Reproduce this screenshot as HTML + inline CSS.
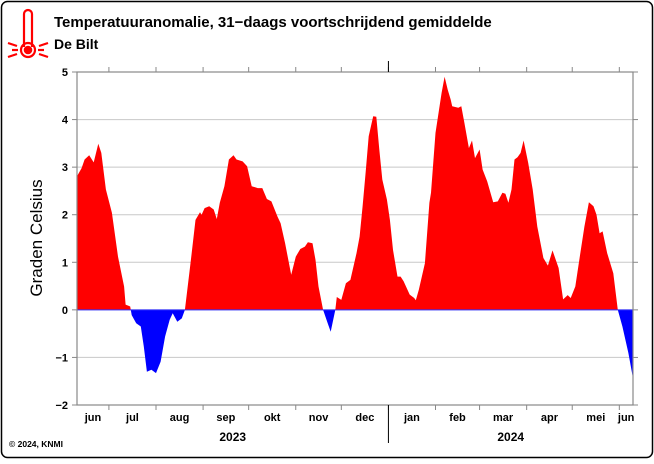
<!DOCTYPE html>
<html><head><meta charset="utf-8"><style>
body{margin:0;background:#fff;width:654px;height:459px;overflow:hidden;font-family:"Liberation Sans",sans-serif}
</style></head><body>
<svg id="chart" width="654" height="459" xmlns="http://www.w3.org/2000/svg" font-family="Liberation Sans, sans-serif">
<rect x="1.5" y="1.5" width="651" height="456" rx="6" fill="#fff" stroke="#000" stroke-width="1.5"/>
<g stroke="#f00" fill="none" stroke-width="2.2">
<path d="M24,47 V14 a4,4 0 0 1 8,0 V47"/>
<circle cx="28" cy="50" r="7"/>
<circle cx="28" cy="50" r="3.2" fill="#f00"/>
<line x1="12" y1="50" x2="18" y2="50"/><line x1="38" y1="50" x2="44" y2="50"/>
<line x1="8" y1="43" x2="17" y2="46"/><line x1="39" y1="46" x2="48" y2="43"/>
<line x1="8" y1="57" x2="17" y2="54"/><line x1="39" y1="54" x2="48" y2="57"/>
</g>
<text x="54" y="27" font-size="15" font-weight="bold">Temperatuuranomalie, 31−daags voortschrijdend gemiddelde</text>
<text x="54" y="49" font-size="14" font-weight="bold">De Bilt</text>
<text transform="translate(42,238) rotate(-90)" text-anchor="middle" font-size="17">Graden Celsius</text>
<text x="9" y="447" font-size="8.5" font-weight="bold">© 2024, KNMI</text>
<g id="plot"></g>
</svg>
<script>
const days=[0,3,5,8,11,14,16,19,23,27,31,32,35,36,39,42,44,46,49,52,55,58,61,63,66,69,71,75,78,81,82,84,87,90,92,94,97,100,103,105,109,112,115,119,122,125,128,132,134,137,141,144,147,150,152,155,157,159,162,165,167,170,171,174,177,180,184,186,188,190,192,195,197,199,201,204,206,208,211,213,215,219,222,223,225,229,232,233,236,240,242,244,246,247,251,253,255,258,260,262,265,267,270,274,277,280,282,284,286,288,290,292,294,297,300,303,307,310,313,317,320,323,325,328,331,334,337,340,342,344,346,349,353,356,359,363,366];
const anomaly=[2.81,2.98,3.16,3.25,3.10,3.49,3.30,2.53,2.04,1.12,0.49,0.11,0.07,-0.11,-0.28,-0.35,-0.77,-1.30,-1.26,-1.33,-1.09,-0.56,-0.21,-0.07,-0.25,-0.18,0,1.05,1.89,2.05,2.0,2.14,2.18,2.11,1.91,2.25,2.60,3.16,3.25,3.16,3.12,3.02,2.60,2.56,2.56,2.33,2.28,1.96,1.82,1.40,0.74,1.12,1.28,1.33,1.42,1.40,1.05,0.49,0,-0.28,-0.46,0,0.27,0.21,0.56,0.63,1.19,1.54,2.18,2.88,3.65,4.07,4.06,3.37,2.74,2.32,1.89,1.26,0.70,0.70,0.60,0.32,0.25,0.20,0.42,0.98,2.25,2.46,3.72,4.56,4.90,4.63,4.42,4.28,4.25,4.28,3.93,3.40,3.56,3.19,3.37,2.95,2.70,2.26,2.28,2.46,2.44,2.25,2.53,3.16,3.21,3.30,3.56,3.09,2.53,1.75,1.09,0.93,1.25,0.88,0.22,0.31,0.25,0.49,1.12,1.75,2.26,2.18,2.0,1.61,1.65,1.19,0.77,0,-0.35,-0.91,-1.44];
const yTicks=[-2,-1,0,1,2,3,4,5];
const monthNames=["jun","jul","aug","sep","okt","nov","dec","jan","feb","mar","apr","mei","jun"];
const monthStarts=[0,21,52,83,113,144,174,205,236,265,296,326,357];
const years=["2023","2024"];
const yearSpans=[[0,205],[205,366]];
const X0=77,X1=633,Y0=405,Y1=72,D0=0,D1=366,V0=-2,V1=5;
const xs=d=>X0+(d-D0)/(D1-D0)*(X1-X0);
const ys=v=>Y0-(v-V0)/(V1-V0)*(Y0-Y1);
const NS="http://www.w3.org/2000/svg";
const g=document.getElementById('plot');
function mk(t,a,p){const e=document.createElementNS(NS,t);for(const k in a)e.setAttribute(k,a[k]);(p||g).appendChild(e);return e;}
yTicks.forEach(v=>{
 const l=mk('line',{x1:X0,x2:X1,y1:ys(v),y2:ys(v),stroke:'#c8c8c8','stroke-width':1});
 
 
 const tk=mk('line',{x1:X0-5,x2:X0,y1:ys(v),y2:ys(v),stroke:'#888'});
 
 
 const tr=mk('line',{x1:X1,x2:X1+5,y1:ys(v),y2:ys(v),stroke:'#888'});
 
 
 const t=mk('text',{x:X0-9,y:ys(v)+4,'text-anchor':'end','font-size':11,'font-weight':'bold'});
 t.textContent=String(v).replace('-','−');
 
 
});
let d='M'+xs(days[0])+','+ys(0);
days.forEach((dd,i)=>{d+=' L'+xs(dd).toFixed(1)+','+ys(anomaly[i]).toFixed(1);});
d+=' L'+xs(days[days.length-1])+','+ys(0)+' Z';
const defs=mk('defs',{});
const cp1=mk('clipPath',{id:'above'},defs);mk('rect',{x:X0,y:Y1,width:X1-X0,height:ys(0)-Y1},cp1);
const cp2=mk('clipPath',{id:'below'},defs);mk('rect',{x:X0,y:ys(0),width:X1-X0,height:Y0-ys(0)},cp2);
const a1=mk('path',{d:d,fill:'#ff0000','clip-path':'url(#above)'});


const a2=mk('path',{d:d,fill:'#0000ff','clip-path':'url(#below)'});


const zl=mk('line',{x1:X0,x2:X1,y1:ys(0),y2:ys(0),stroke:'#3030ff','stroke-width':1});


const fr=mk('rect',{x:X0,y:Y1,width:X1-X0,height:Y0-Y1,fill:'none',stroke:'#888','stroke-width':1.2});


monthStarts.forEach((s,i)=>{
 const e=i<monthStarts.length-1?monthStarts[i+1]:D1;
 if(s>D0){
  const t1=mk('line',{x1:xs(s),x2:xs(s),y1:Y1-5,y2:Y1,stroke:'#888'});
  
  
  const t2=mk('line',{x1:xs(s),x2:xs(s),y1:Y0,y2:Y0+5,stroke:'#888'});
  
  
 }
 const t=mk('text',{x:xs((s+Math.min(e,D1))/2),y:Y0+16,'text-anchor':'middle','font-size':11,'font-weight':'bold'});
 t.textContent=monthNames[i];
 
 
});
const sx=xs(yearSpans[1][0]);
const ys1=mk('line',{x1:sx,x2:sx,y1:Y1-11,y2:Y1,stroke:'#000','stroke-width':1});


const ys2=mk('line',{x1:sx,x2:sx,y1:Y0,y2:Y0+38,stroke:'#000','stroke-width':1});


years.forEach((y,i)=>{
 const t=mk('text',{x:xs((yearSpans[i][0]+yearSpans[i][1])/2),y:Y0+36,'text-anchor':'middle','font-size':12,'font-weight':'bold'});
 t.textContent=y;
 
 
});
</script>
</body></html>
